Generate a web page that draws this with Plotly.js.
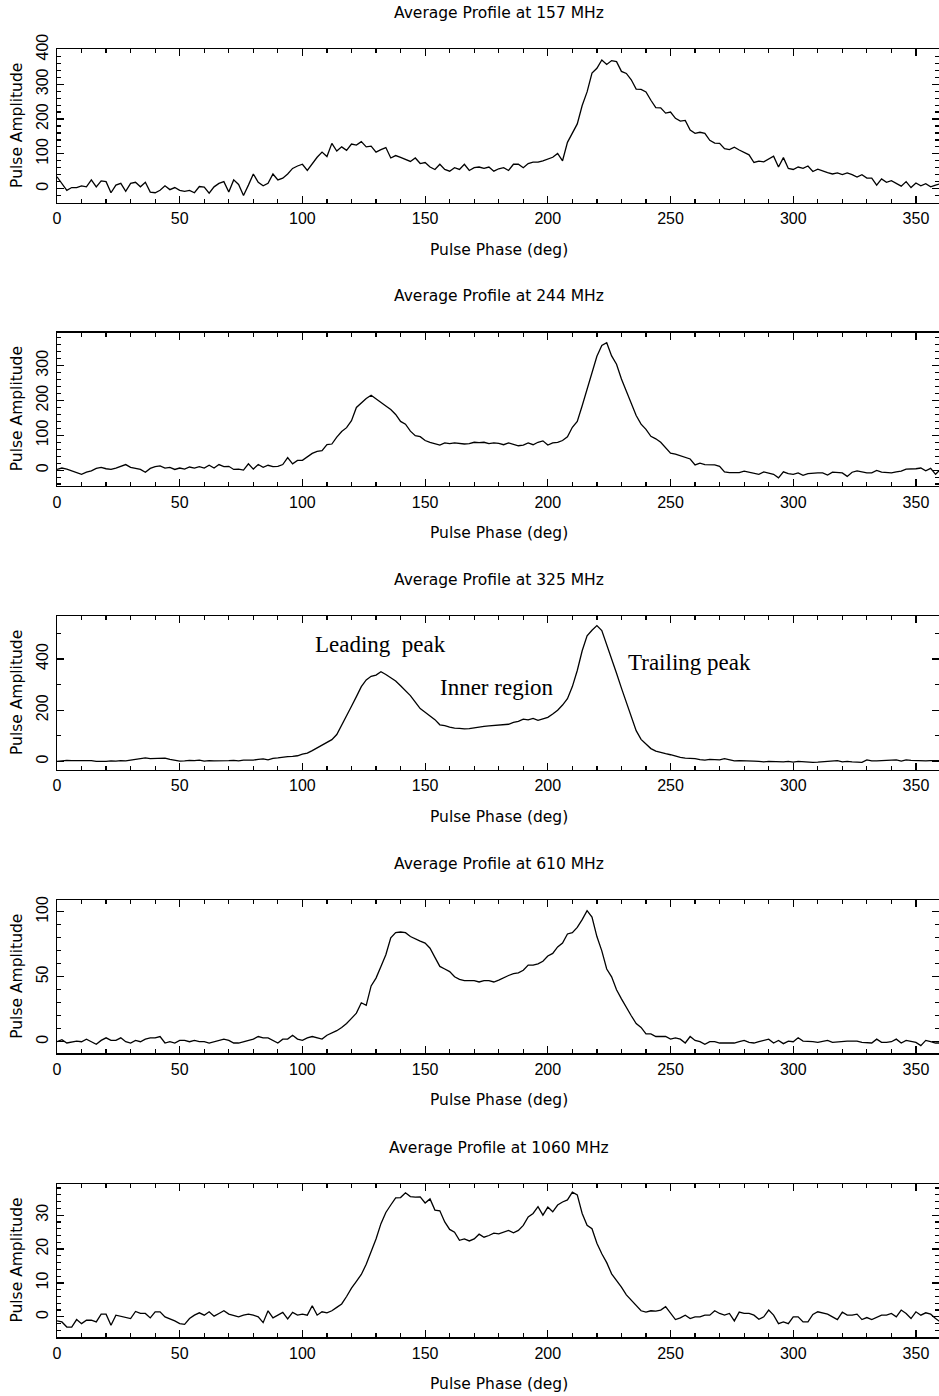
<!DOCTYPE html>
<html><head><meta charset="utf-8">
<script src="https://cdn.plot.ly/plotly-3.0.1.min.js"></script>
<style>html,body{margin:0;padding:0;background:#fff}</style>
</head><body><div id="chart" style="width:939px;height:1396px"></div>
<script>
// ---------------- data (pulse amplitude every 2 deg of phase, 0..360) ----------------
const frequencies = ['157', '244', '325', '610', '1060'];
const phaseStep = 2;

const amp157 = [34,15,-5,3,3,8,5,25,5,22,
 20,-12,10,15,-8,15,18,5,18,-10,
 -12,-5,8,-3,3,-5,-8,-5,-12,6,
 4,-13,5,15,20,-10,25,12,-20,10,
 42,18,8,15,42,25,30,42,58,65,
 70,52,72,90,105,92,130,108,120,110,
 128,125,135,120,122,105,112,118,88,95,
 90,83,78,88,72,75,62,55,70,55,
 50,60,55,70,52,60,62,58,62,50,
 57,60,52,70,70,60,72,76,76,80,
 84,90,101,80,133,159,186,239,278,332,
 346,370,357,368,365,337,331,313,286,285,
 278,254,233,232,217,220,202,194,196,168,
 159,162,159,139,131,130,115,112,119,111,
 103,97,75,79,77,84,93,62,89,58,
 55,62,58,65,49,56,50,46,42,45,
 40,45,40,33,40,30,30,10,28,18,
 23,16,7,20,3,16,8,14,5,10,
 14];

const amp244 = [2,6,3,-2,-5,-12,-6,-2,5,8,
 4,2,6,12,16,8,5,2,-6,5,
 10,12,6,8,2,6,3,9,6,10,
 6,14,6,16,10,11,2,3,0,18,
 3,16,8,14,10,11,16,36,18,28,
 28,38,48,54,56,73,75,95,111,122,
 142,180,192,206,215,204,195,184,174,160,
 140,132,112,99,96,85,80,75,72,78,
 76,78,76,75,76,80,79,80,76,78,
 77,73,78,74,70,72,78,73,80,84,
 72,78,80,85,96,123,140,185,233,283,
 327,358,366,328,304,262,226,188,157,132,
 117,97,90,80,63,49,46,42,38,32,
 15,20,16,15,15,11,-5,-7,-8,-7,
 -3,-6,-8,-12,-5,-8,-12,-22,-5,-10,
 -12,-8,-15,-10,-8,-8,-8,-14,-6,-8,
 -8,-18,-6,-2,-5,-8,-8,-1,-6,-6,
 -8,-5,-3,3,3,4,6,-2,5,-12,
 2];

const amp325 = [0,2,4,3,3,4,5,3,0,-1,
 0,2,1,3,2,5,8,10,14,11,
 12,13,13,8,4,1,2,4,3,5,
 1,3,2,2,1,3,4,2,5,5,
 5,8,10,6,12,14,17,19,20,22,
 28,32,42,52,62,72,85,105,140,176,
 215,253,292,318,332,337,350,339,327,314,
 295,277,257,231,206,192,178,163,143,140,
 134,130,129,127,128,131,136,137,139,141,
 141,145,145,152,156,165,162,168,160,166,
 172,185,200,220,245,292,355,432,490,512,
 530,511,458,400,344,286,230,172,120,86,
 67,50,40,34,30,26,20,16,13,13,
 11,7,5,8,7,6,11,5,2,3,
 3,2,1,0,-2,0,-1,-3,-2,0,
 -3,0,-2,-3,-4,-3,-2,-1,0,3,
 -2,0,-2,-3,-4,6,2,2,3,4,
 4,6,1,6,4,3,1,2,3,2,
 3];

const amp610 = [0,1.5,-1,0,0.5,0,2,0,-2,1,
 3,1,1,3,0,-1,1,0,2,3,
 3,4,-1,0,-1,1,1,0,1,0,
 0,-1,0,1,2,1,-1,-1,0,1,
 2,4,3,3,1,-1,2,2,5,2,
 1,3,4,3,2,5,6.5,8.5,11,14,
 18,22,30,28,43,49,58,67,80,84,
 84.5,84,81,79,77.5,76,72,65,58,56,
 54,50,48,47,47,47,46,47,47,46,
 47.5,49.5,51,52.5,53,55,59,59,60,62,
 66,68,73,76,83,84,88,94,101,96,
 81,70,56,50,40,33,26,20,14,11,
 6,6,4,4,4,2,3,2,-1,4,
 1,0,-2,0,0,-1,-1,-0.5,-1,0,
 1,-0.5,-1,0,1,2,-1,1,-1.5,0.5,
 0,3,0.5,0.5,0,-0.5,0,1,-0.5,0,
 0.5,0.5,0.5,0.5,-0.5,-1,-1,2,-0.5,-0.5,
 0,2,-1,1,0,-0.5,-3,1,0,-1,
 -1];

const amp1060 = [-1.2,-1.5,-3,-3,-0.8,-2,-1,-1,-1.5,0.8,
 0.8,-2.5,0.5,0.2,0,-0.5,1.6,1,1,-0.3,
 1.5,1.5,0,-0.5,-1.2,-2,-2.2,-0.5,0.5,1.2,
 0.5,1.5,0.2,1,1.8,0.8,0.5,0,0.5,0.8,
 0.5,0,-1.7,1.8,-0.3,0.5,1.3,-0.6,1.3,0.5,
 0.8,0.5,3.3,0.5,1.5,1.2,1.8,2.8,3.8,6,
 8.5,10.5,12.5,15.5,19,23,27.5,30.8,33,35.1,
 35.2,36.6,35.5,35.3,35.4,33.6,34.8,31.5,31.3,28,
 25.8,25,22.6,23,22.4,23,24.4,23.5,24,24.7,
 24.5,25,25.5,24.8,25.5,27,29.5,30.5,32.5,30,
 32.4,31,33,33.9,34.5,36.8,36,30.5,27,26,
 21.7,18.6,16,12.7,10.8,8.8,6.5,5,3.5,1.8,
 1.4,1.8,1.7,2,3,1.2,-0.8,-0.3,0.5,-0.5,
 0,0,0.5,0.5,1.8,1,0.5,1,-1.2,1.4,
 1,1,0.5,-0.7,0,2,0.5,-2,-1.5,-2,
 0,0,-1.5,-1.5,0.7,1.5,1.2,0.8,0,-0.8,
 1.4,0.5,0.5,0.8,-0.8,-0.2,-0.8,-0.2,0.5,0.5,
 1,0,2,1,-0.5,1.5,0.5,1.2,0.8,-0.5,
 -1.5];

const amplitudes = [amp157, amp244, amp325, amp610, amp1060];
const phase = amp157.map((_, i) => i * phaseStep);

const panelLabels = [
  {text: 'Leading\u00a0\u00a0peak', phase: 131.9, amp: 456},
  {text: 'Inner region', phase: 179.4, amp: 288},
  {text: 'Trailing peak', phase: 257.9, amp: 386}
];

// ---------------- layout / styling ----------------
const W = 939, H = 1396, L = 57;
const panelTops = [49.3, 332.6, 616.4, 900.2, 1184.0];
const panelHeight = 153.2;
const yRanges = [[-40, 400.5], [-45, 395], [-32, 566], [-9, 109], [-6, 39.2]];
const yDtick = [100, 100, 200, 50, 10];
const yMinor = [20, 20, 100, 10, 2];

const sans = 'DejaVu Sans, Liberation Sans, sans-serif';
const tickFont = {family: 'Liberation Sans Narrow, Liberation Sans, Arial, sans-serif', size: 16, color: '#000'};
const py = p => 1 - p / H;
const px = p => (p - L) / (W - L);

const traces = [];
const layout = {
  width: W, height: H,
  margin: {l: L, r: 0, t: 0, b: 0, pad: 0},
  paper_bgcolor: '#fff', plot_bgcolor: '#fff',
  showlegend: false,
  annotations: []
};

amplitudes.forEach((amp, k) => {
  const n = k === 0 ? '' : String(k + 1);
  traces.push({
    x: phase, y: amp, xaxis: 'x' + n, yaxis: 'y' + n,
    type: 'scatter', mode: 'lines',
    line: {color: '#000', width: 1.3},
    hoverinfo: 'skip'
  });
  const top = panelTops[k], bot = top + panelHeight;
  layout['xaxis' + n] = {
    domain: [0, 1], range: [0, 359.4], anchor: 'y' + n,
    showline: true, linecolor: '#000', linewidth: 1.5, mirror: 'allticks',
    ticks: 'inside', ticklen: 7, tickwidth: 1.2, tickcolor: '#000',
    tick0: 0, dtick: 50,
    minor: {dtick: 10, tick0: 0, ticks: 'inside', ticklen: 4, tickwidth: 1.2, tickcolor: '#000', showgrid: false},
    showgrid: false, zeroline: false,
    tickfont: tickFont, ticklabelstandoff: 1,
    fixedrange: true
  };
  layout['yaxis' + n] = {
    domain: [py(bot), py(top)], range: yRanges[k], anchor: 'x' + n,
    showline: true, linecolor: '#000', linewidth: 1.5, mirror: 'allticks',
    ticks: 'inside', ticklen: 7, tickwidth: 1.2, tickcolor: '#000',
    tick0: 0, dtick: yDtick[k],
    minor: {dtick: yMinor[k], tick0: 0, ticks: 'inside', ticklen: 4, tickwidth: 1.2, tickcolor: '#000', showgrid: false},
    showgrid: false, zeroline: false,
    tickangle: -90, tickfont: tickFont, ticklabelstandoff: 1,
    fixedrange: true
  };
  // panel title
  layout.annotations.push({
    text: 'Average Profile at ' + frequencies[k] + ' MHz',
    xref: 'paper', yref: 'paper', x: px(498.5), y: py(top - 36.5),
    xanchor: 'center', yanchor: 'middle', showarrow: false,
    font: {family: sans, size: 15.5, color: '#000'}
  });
  // x axis title
  layout.annotations.push({
    text: 'Pulse Phase (deg)',
    xref: 'paper', yref: 'paper', x: px(498.5), y: py(bot + 47),
    xanchor: 'center', yanchor: 'middle', showarrow: false,
    font: {family: sans, size: 15.5, color: '#000'}
  });
  // y axis title
  layout.annotations.push({
    text: 'Pulse Amplitude', textangle: -90,
    xref: 'paper', yref: 'paper', x: px(17), y: py((top + bot) / 2),
    xanchor: 'center', yanchor: 'middle', showarrow: false,
    font: {family: sans, size: 15.5, color: '#000'}
  });
});

panelLabels.forEach(lb => {
  layout.annotations.push({
    text: lb.text, xref: 'x3', yref: 'y3', x: lb.phase, y: lb.amp,
    xanchor: 'center', yanchor: 'middle', showarrow: false,
    font: {family: 'Liberation Serif, Times New Roman, serif', size: 23, color: '#000'}
  });
});

Plotly.newPlot('chart', traces, layout, {staticPlot: true, displayModeBar: false});
</script>
</body></html>
